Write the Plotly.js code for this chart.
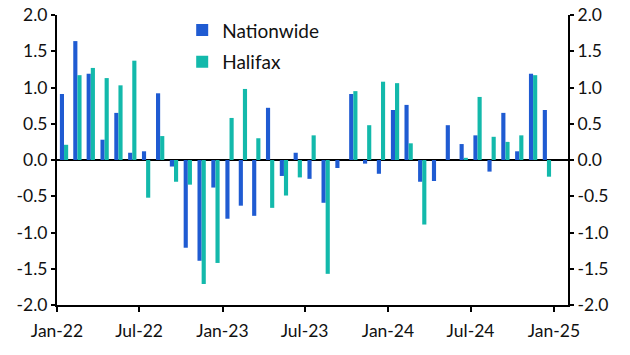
<!DOCTYPE html>
<html>
<head>
<meta charset="utf-8">
<script src="https://cdn.plot.ly/plotly-3.0.1.min.js"></script>
<style>html,body{margin:0;padding:0;background:#fff;}#chart{width:630px;height:355px;}</style>
</head>
<body>
<div id="chart"></div>
<script>
const months = [
  '2022-01','2022-02','2022-03','2022-04','2022-05','2022-06','2022-07','2022-08','2022-09','2022-10','2022-11','2022-12',
  '2023-01','2023-02','2023-03','2023-04','2023-05','2023-06','2023-07','2023-08','2023-09','2023-10','2023-11','2023-12',
  '2024-01','2024-02','2024-03','2024-04','2024-05','2024-06','2024-07','2024-08','2024-09','2024-10','2024-11','2024-12'
];
const nationwide = [
  0.91, 1.64, 1.19, 0.28, 0.65, 0.10, 0.12, 0.92, -0.09, -1.21, -1.39, -0.38,
  -0.81, -0.63, -0.77, 0.72, -0.22, 0.10, -0.26, -0.59, -0.11, 0.91, -0.05, -0.19,
  0.69, 0.76, -0.30, -0.29, 0.48, 0.22, 0.34, -0.16, 0.65, 0.12, 1.19, 0.69
];
const halifax = [
  0.21, 1.17, 1.27, 1.13, 1.03, 1.37, -0.52, 0.33, -0.30, -0.34, -1.71, -1.42,
  0.58, 0.98, 0.30, -0.66, -0.49, -0.24, 0.34, -1.57, 0.00, 0.95, 0.48, 1.08,
  1.06, 0.23, -0.89, 0.00, 0.00, 0.03, 0.87, 0.32, 0.25, 0.34, 1.17, -0.23
];
const yTicks = [-2.0, -1.5, -1.0, -0.5, 0.0, 0.5, 1.0, 1.5, 2.0];
const yTickText = ['-2.0','-1.5','-1.0','-0.5','0.0','0.5','1.0','1.5','2.0'];

const FONT = 'Lato, "Open Sans", sans-serif';
const traces = [
  {type:'bar', name:'Nationwide', x:months, y:nationwide, xperiod:'M1', xperiodalignment:'middle',
   marker:{color:'#1f5bd2'}, legendgroup:'a'},
  {type:'bar', name:'Halifax', x:months, y:halifax, xperiod:'M1', xperiodalignment:'middle',
   marker:{color:'#13b9ab'}, legendgroup:'b'},
  {type:'scatter', x:[months[0]], y:[0], yaxis:'y2', mode:'markers', marker:{opacity:0}, showlegend:false, hoverinfo:'skip'}
];
const axisCommon = {
  range:[-2,2], tickvals:yTicks, ticktext:yTickText, showgrid:false, automargin:false,
  showline:true, linecolor:'#000', linewidth:2, ticks:'outside', ticklen:4, tickwidth:2, tickcolor:'#000',
  tickfont:{family:FONT, size:17.5, color:'#111'}, fixedrange:true
};
const layout = {
  width:630, height:355,
  margin:{l:57, r:62, t:15, b:50, autoexpand:false},
  paper_bgcolor:'#fff', plot_bgcolor:'#fff',
  barmode:'group', bargap:0.38, bargroupgap:0,
  showlegend:true,
  legend:{x:0.245, y:1.013, xanchor:'left', yanchor:'top', bgcolor:'rgba(0,0,0,0)',
          font:{family:FONT, size:19, color:'#111'}, traceorder:'grouped', tracegroupgap:4},
  xaxis:{type:'date', range:['2022-01-01','2025-02-01'], tick0:'2022-01-01', dtick:'M6', tickformat:'%b-%y',
         showgrid:false, showline:true, linecolor:'#000', linewidth:2, ticks:'outside', ticklen:5, tickwidth:2,
         tickcolor:'#000', tickfont:{family:FONT, size:17.5, color:'#111'}, anchor:'y', zeroline:false,
         ticklabelstandoff:4, automargin:false},
  yaxis:Object.assign({}, axisCommon, {side:'left', zeroline:true, zerolinecolor:'#000', zerolinewidth:2}),
  yaxis2:Object.assign({}, axisCommon, {side:'right', overlaying:'y', zeroline:false})
};
Plotly.newPlot('chart', traces, layout, {staticPlot:true});
</script>
</body>
</html>
